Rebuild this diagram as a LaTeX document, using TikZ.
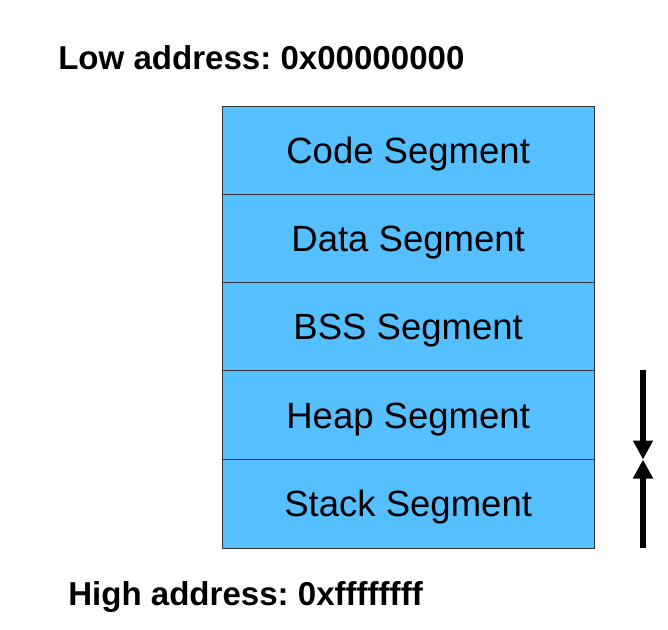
\documentclass[tikz,border=0pt]{standalone}
\usepackage{fontspec}
\setmainfont{Liberation Sans}
\usetikzlibrary{arrows.meta}
\definecolor{segblue}{HTML}{55BFFF}
\definecolor{segedge}{HTML}{333333}
\frenchspacing
\begin{document}
\begin{tikzpicture}[x=0.75pt,y=-0.75pt,
  seg/.style={draw=segedge,line width=1pt,fill=segblue,minimum width=372*0.75pt,minimum height=88.5*0.75pt,inner sep=0pt,text height=19.6pt,text depth=0pt,font=\fontsize{27.4}{30}\selectfont,anchor=north west},
  addr/.style={font=\fontsize{24.8}{28}\selectfont\bfseries,anchor=base west,inner sep=0pt},
  growarrow/.style={line width=4pt,-{Triangle[width=19*0.75pt,length=19*0.75pt]}}]
\useasboundingbox (0,0) rectangle (668,629);
\node[seg] (code) at (221.5,105.5) {Code Segment};
\node[seg] (data) at (221.5,194) {Data Segment};
\node[seg] (bss) at (221.5,282) {BSS Segment};
\node[seg,minimum height=89*0.75pt] (heap) at (221.5,370) {Heap Segment};
\node[seg] (stack) at (221.5,459) {Stack Segment};
\node[addr] (low) at (58,69) {Low address: 0x00000000};
\node[addr] (high) at (68,605) {High address: 0xffffffff};
\coordinate (htop) at (643,370);
\coordinate (mid) at (643,459.5);
\coordinate (sbot) at (643,548);
\draw[growarrow] (htop) -- (mid);
\draw[growarrow] (sbot) -- (mid);
\end{tikzpicture}
\end{document}
